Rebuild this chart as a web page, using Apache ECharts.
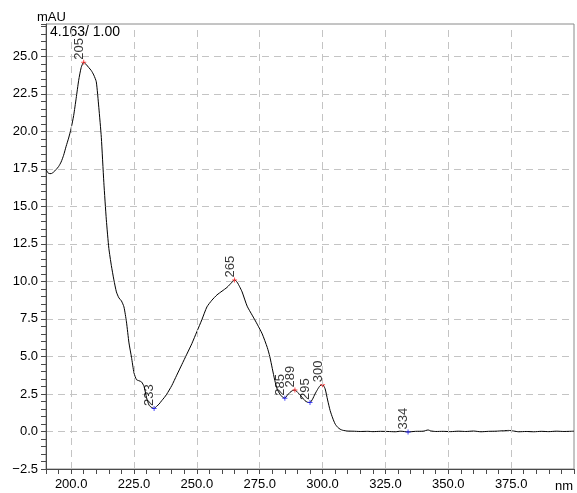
<!DOCTYPE html>
<html>
<head>
<meta charset="utf-8">
<script src="https://cdn.jsdelivr.net/npm/echarts@6/dist/echarts.min.js"></script>
<style>
  html, body { margin: 0; padding: 0; background: #fff; }
  #chart { width: 577px; height: 493px; }
</style>
</head>
<body>
<div id="chart"></div>
<script>
// UV spectrum: wavelength (nm) and absorbance (mAU)
const wavelength = [
  190, 191, 192, 193, 194, 195, 196, 197, 198, 199,
  200, 201, 202, 203, 204, 205, 206, 207, 208, 209,
  210, 211, 212, 213, 214, 215, 216, 217, 218, 219,
  220, 221, 222, 223, 224, 225, 226, 227, 228, 229,
  230, 231, 232, 233, 234, 235, 236, 237, 238, 240,
  242, 244, 246, 248, 250, 252, 254, 256, 258, 260,
  262, 264, 265, 266, 267, 268, 270, 272, 274, 276,
  278, 279, 280, 281, 282, 283, 284, 285, 286, 287,
  288, 289, 290, 291, 292, 293, 294, 295, 296, 297,
  298, 299, 300, 301, 302, 303, 304, 305, 306, 307,
  308, 310, 312, 315, 318, 320, 323, 326, 329, 331,
  334, 337, 340, 342, 343, 345, 348, 351, 354, 357,
  360, 363, 366, 369, 372, 374, 376, 378, 381, 384,
  387, 390, 393, 396, 400
];
const absorbance = [
  17.45, 17.2, 17.18, 17.28, 17.45, 17.65, 17.95, 18.4, 19.0, 19.55,
  20.2, 21.05, 22.2, 23.4, 24.25, 24.6, 24.45, 24.25, 24.05, 23.75,
  23.3, 21.6, 19.6, 16.6, 14.1, 12.2, 11.05, 10.1, 9.3, 8.9,
  8.7, 8.3, 7.3, 5.9, 4.95, 3.9, 3.45, 3.38, 3.3, 3.0,
  2.25, 1.75, 1.6, 1.53, 1.68, 1.83, 2.05, 2.25, 2.48, 3.05,
  3.75, 4.45, 5.15, 5.85, 6.65, 7.45, 8.3, 8.75, 9.1, 9.35,
  9.6, 9.95, 10.1, 9.95, 9.65, 9.3, 8.35, 7.75, 7.15, 6.5,
  5.6, 5.0, 4.2, 3.4, 2.8, 2.5, 2.3, 2.22, 2.42, 2.6,
  2.72, 2.76, 2.62, 2.45, 2.25, 2.05, 1.95, 1.93, 2.15, 2.5,
  2.8, 3.05, 3.12, 2.85, 2.1, 1.4, 0.9, 0.5, 0.28, 0.15,
  0.08, 0.03, 0.02, 0.0, 0.01, -0.01, 0.01, 0.0, -0.02, 0.02,
  -0.03, 0.01, 0.02, 0.1, 0.04, 0.0, 0.01, -0.01, 0.02, 0.0,
  0.03, -0.02, 0.01, 0.02, 0.05, 0.07, 0.03, -0.02, 0.0, -0.02,
  0.01, -0.01, 0.02, 0.0, 0.02
];

// Detected maxima and minima (nm)
const peakNm = [205, 265, 289, 300];
const valleyNm = [233, 285, 295, 334];

// Axis ticks and labels
const xLabelValues = [200, 225, 250, 275, 300, 325, 350, 375];
const yLabelValues = [-2.5, 0, 2.5, 5, 7.5, 10, 12.5, 15, 17.5, 20, 22.5, 25];

const headerText = '4.163/ 1.00';

const FONT = 'Liberation Sans, Arial, sans-serif';

function valueAt(nm) {
  const i = wavelength.indexOf(nm);
  return absorbance[i];
}

const spectrum = wavelength.map((w, i) => [w, absorbance[i]]);
const peakPoints = peakNm.map(w => [w, valueAt(w)]);
const valleyPoints = valleyNm.map(w => [w, valueAt(w)]);

const plusSymbol = 'path://M2,0h1v5h-1z M0,2h5v1h-5z';

const markerLabel = {
  show: true,
  position: 'top',
  distance: 0,
  rotate: 90,
  align: 'left',
  verticalAlign: 'bottom',
  offset: [0, 2],
  color: '#000',
  fontFamily: FONT,
  fontSize: 13,
  formatter: p => String(p.value[0])
};

const axisGray = '#4a4a4a';
const gridGray = '#c4c4c4';

const chart = echarts.init(document.getElementById('chart'), null, { renderer: 'canvas' });

chart.setOption({
  animation: false,
  backgroundColor: '#fff',
  grid: {
    left: 46, right: 0, top: 24, bottom: 24,
    show: true, borderColor: '#8a8a8a', borderWidth: 1,
    backgroundColor: 'transparent'
  },
  xAxis: {
    type: 'value',
    min: 190, max: 400, interval: 5,
    axisLine: { show: true, onZero: false, lineStyle: { color: axisGray, width: 1 } },
    axisTick: { show: true, inside: false, length: 5, lineStyle: { color: axisGray } },
    axisLabel: {
      margin: 9,
      color: '#000', fontFamily: FONT, fontSize: 13,
      showMinLabel: true, showMaxLabel: true,
      formatter: v => xLabelValues.indexOf(v) >= 0 ? v.toFixed(1) : ''
    },
    splitLine: { show: false }
  },
  yAxis: {
    type: 'value',
    min: -2.5, max: 27.15, interval: 2.5,
    axisLine: { show: true, onZero: false, lineStyle: { color: axisGray, width: 1 } },
    axisTick: { show: true, inside: false, length: 5, lineStyle: { color: axisGray } },
    minorTick: { show: true, splitNumber: 5, length: 5, lineStyle: { color: axisGray } },
    axisLabel: {
      margin: 8,
      color: '#000', fontFamily: FONT, fontSize: 13,
      formatter: v => yLabelValues.indexOf(Math.round(v * 10) / 10) >= 0
        ? (v < 0 ? '\u2212' + Math.abs(v).toFixed(1) : v.toFixed(1)) : ''
    },
    splitLine: { show: true, lineStyle: { color: gridGray, type: [7, 5], width: 1 } }
  },
  graphic: [
    { type: 'text', left: 37, top: 11, style: { text: 'mAU', fill: '#000', font: '13px ' + FONT } },
    { type: 'text', left: 50, top: 25, style: { text: headerText, fill: '#000', font: '14px ' + FONT } },
    { type: 'text', left: 555, top: 480, style: { text: 'nm', fill: '#000', font: '13px ' + FONT } }
  ],
  series: [
    {
      type: 'line',
      data: spectrum,
      showSymbol: false,
      smooth: 0.2,
      lineStyle: { color: '#000', width: 1 },
      z: 3,
      markLine: {
        silent: true,
        symbol: 'none',
        label: { show: false },
        lineStyle: { color: gridGray, type: [7, 5], width: 1 },
        data: xLabelValues.map(v => ({ xAxis: v }))
      }
    },
    {
      type: 'scatter',
      data: peakPoints,
      symbol: plusSymbol,
      symbolSize: 5,
      itemStyle: { color: '#ff2020' },
      label: markerLabel,
      z: 4
    },
    {
      type: 'scatter',
      data: valleyPoints,
      symbol: plusSymbol,
      symbolSize: 5,
      itemStyle: { color: '#2020ff' },
      label: markerLabel,
      z: 4
    }
  ]
});
</script>
</body>
</html>
